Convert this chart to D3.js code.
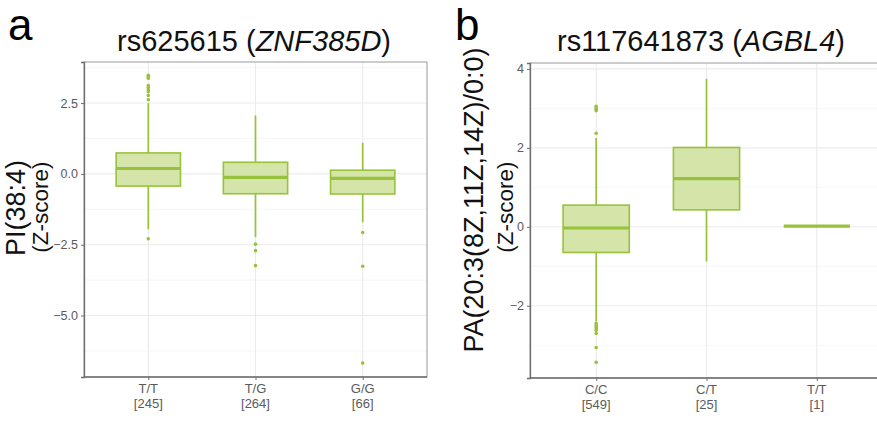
<!DOCTYPE html>
<html>
<head>
<meta charset="utf-8">
<script src="https://cdn.jsdelivr.net/npm/d3@7"></script>
<style>
  body { margin: 0; background: #fff; }
  svg { display: block; font-family: "Liberation Sans", Arial, Helvetica, sans-serif; }
</style>
</head>
<body>
<svg id="chart" width="877" height="421"></svg>
<script>
// ---- Panel a: rs625615 (ZNF385D), PI(38:4) ----
const aGenotypes = ["T/T", "T/G", "G/G"];
const aCounts = [245, 264, 66];
const aQ1 = [-0.43, -0.70, -0.71];
const aMedian = [0.19, -0.12, -0.16];
const aQ3 = [0.74, 0.41, 0.13];
const aLowWhisker = [-1.96, -2.23, -1.71];
const aHighWhisker = [2.50, 2.06, 1.10];
const aOutliers = [
  [-2.29, 2.62, 2.77, 2.90, 2.97, 3.05, 3.12, 3.38, 3.44, 3.48],
  [-2.48, -2.71, -3.24],
  [-2.07, -3.26, -6.68]
];
const aTicks = [-5.0, -2.5, 0.0, 2.5];
const aMinorTicks = [-6.25, -3.75, -1.25, 1.25, 3.75];

// ---- Panel b: rs117641873 (AGBL4), PA(20:3(8Z,11Z,14Z)/0:0) ----
const bGenotypes = ["C/C", "C/T", "T/T"];
const bCounts = [549, 25, 1];
const bQ1 = [-0.65, 0.43, 0.02];
const bMedian = [-0.03, 1.22, 0.02];
const bQ3 = [0.55, 2.01, 0.02];
const bLowWhisker = [-2.40, -0.88, 0.02];
const bHighWhisker = [2.25, 3.75, 0.02];
const bOutliers = [
  [2.37, 2.94, 2.98, 3.02, 3.05, -2.45, -2.50, -2.54, -2.58, -2.62, -2.70, -3.06, -3.43],
  [],
  []
];
const bTicks = [-2, 0, 2, 4];
const bMinorTicks = [-3, -1, 1, 3];

const GREEN = "#98c23c";
const FILL = "#d5e4a9";
const GRID = "#ebebeb";
const GRID_MINOR = "#f4f4f4";

const svg = d3.select("#chart");

function panel(o) {
  const g = svg.append("g");
  const x = d3.scalePoint().domain(o.cats).range([o.x0, o.x1]).padding(0.6);
  const step = x.step();
  const y = d3.scaleLinear().domain(o.domain).range([o.y1, o.y0]);
  const bw = step * 0.6;

  // gridlines
  g.selectAll(".gmin").data(o.minor).join("line")
    .attr("x1", o.x0).attr("x2", o.x1)
    .attr("y1", d => y(d)).attr("y2", d => y(d))
    .attr("stroke", GRID_MINOR).attr("stroke-width", 0.8);
  g.selectAll(".gmaj").data(o.ticks).join("line")
    .attr("x1", o.x0).attr("x2", o.x1)
    .attr("y1", d => y(d)).attr("y2", d => y(d))
    .attr("stroke", GRID).attr("stroke-width", 1.1);
  g.selectAll(".gv").data(o.cats).join("line")
    .attr("x1", d => x(d)).attr("x2", d => x(d))
    .attr("y1", o.y0).attr("y2", o.y1)
    .attr("stroke", GRID).attr("stroke-width", 1.1);

  // panel border (top/right)
  g.append("rect").attr("x", o.x0).attr("y", o.y0)
    .attr("width", o.x1 - o.x0).attr("height", o.y1 - o.y0)
    .attr("fill", "none").attr("stroke", "#9a9a9a").attr("stroke-width", 1);

  // boxes
  o.cats.forEach((c, i) => {
    const cx = x(c);
    g.append("line").attr("x1", cx).attr("x2", cx)
      .attr("y1", y(o.hi[i])).attr("y2", y(o.q3[i]))
      .attr("stroke", GREEN).attr("stroke-width", 1.7);
    g.append("line").attr("x1", cx).attr("x2", cx)
      .attr("y1", y(o.q1[i])).attr("y2", y(o.lo[i]))
      .attr("stroke", GREEN).attr("stroke-width", 1.7);
    g.append("rect").attr("x", cx - bw / 2).attr("y", y(o.q3[i]))
      .attr("width", bw).attr("height", Math.max(0, y(o.q1[i]) - y(o.q3[i])))
      .attr("fill", FILL).attr("stroke", GREEN).attr("stroke-width", 1.6);
    g.append("line").attr("x1", cx - bw / 2).attr("x2", cx + bw / 2)
      .attr("y1", y(o.med[i])).attr("y2", y(o.med[i]))
      .attr("stroke", GREEN).attr("stroke-width", 3.2);
    g.selectAll(null).data(o.out[i]).join("circle")
      .attr("cx", cx).attr("cy", d => y(d)).attr("r", 1.8)
      .attr("fill", GREEN);
  });

  // y axis
  const ya = g.append("g").attr("transform", `translate(${o.x0},0)`)
    .call(d3.axisLeft(y).tickValues(o.ticks).tickSize(3).tickPadding(3).tickFormat(o.fmt));
  ya.select(".domain").attr("stroke", "#6e6e6e").attr("stroke-width", 1.3);
  ya.selectAll(".tick line").attr("stroke", "#6e6e6e");
  ya.selectAll(".tick text").attr("fill", "#5a5a5a").style("font-size", "12.5px");

  // x axis
  const xa = g.append("g").attr("transform", `translate(0,${o.y1})`)
    .call(d3.axisBottom(x).tickSize(3).tickPadding(2).tickFormat(""));
  xa.select(".domain").attr("stroke", "#6e6e6e").attr("stroke-width", 1.3)
    .attr("d", `M${o.x0},0H${o.x1}`);
  xa.selectAll(".tick line").attr("stroke", "#6e6e6e");
  o.cats.forEach((c, i) => {
    const t = g.append("text").attr("x", x(c)).attr("y", o.y1 + 16)
      .attr("text-anchor", "middle").attr("fill", "#5a5a5a").style("font-size", "13px");
    t.append("tspan").attr("x", x(c)).text(c);
    t.append("tspan").attr("x", x(c)).attr("dy", 14.5).text(`[${o.counts[i]}]`);
  });

  // title
  const title = svg.append("text").attr("x", o.titleX).attr("y", 51)
    .attr("text-anchor", "middle").style("font-size", "29px").attr("fill", "#111");
  title.append("tspan").text(o.snp + " (");
  title.append("tspan").style("font-style", "italic").text(o.gene);
  title.append("tspan").text(")");

  // y label (two lines)
  svg.append("text").attr("transform", `translate(${o.lab1X},${o.lab1Y}) rotate(-90)`)
    .attr("text-anchor", "middle").attr("dominant-baseline", "central")
    .style("font-size", "27px").attr("fill", "#111").text(o.ylab);
  svg.append("text").attr("transform", `translate(${o.lab2X},207) rotate(-90)`)
    .attr("text-anchor", "middle").attr("dominant-baseline", "central")
    .style("font-size", "22.5px").attr("fill", "#111").text("(Z-score)");

  // panel letter
  svg.append("text").attr("x", o.letterX).attr("y", 40)
    .style("font-size", "44px").attr("fill", "#000").text(o.letter);
}

panel({
  cats: aGenotypes, counts: aCounts, q1: aQ1, med: aMedian, q3: aQ3,
  lo: aLowWhisker, hi: aHighWhisker, out: aOutliers,
  ticks: aTicks, minor: aMinorTicks, fmt: d3.format(".1f"),
  domain: [-7.17, 3.95], x0: 84, x1: 427, y0: 62, y1: 377,
  snp: "rs625615", gene: "ZNF385D", titleX: 254,
  ylab: "PI(38:4)", lab1X: 16, lab1Y: 208, lab2X: 40, letter: "a", letterX: 8
});

panel({
  cats: bGenotypes, counts: bCounts, q1: bQ1, med: bMedian, q3: bQ3,
  lo: bLowWhisker, hi: bHighWhisker, out: bOutliers,
  ticks: bTicks, minor: bMinorTicks, fmt: d3.format("d"),
  domain: [-3.83, 4.15], x0: 530, x1: 883, y0: 63, y1: 378,
  snp: "rs117641873", gene: "AGBL4", titleX: 701,
  ylab: "PA(20:3(8Z,11Z,14Z)/0:0)", lab1X: 474, lab1Y: 200, lab2X: 505, letter: "b", letterX: 455
});
</script>
</body>
</html>
